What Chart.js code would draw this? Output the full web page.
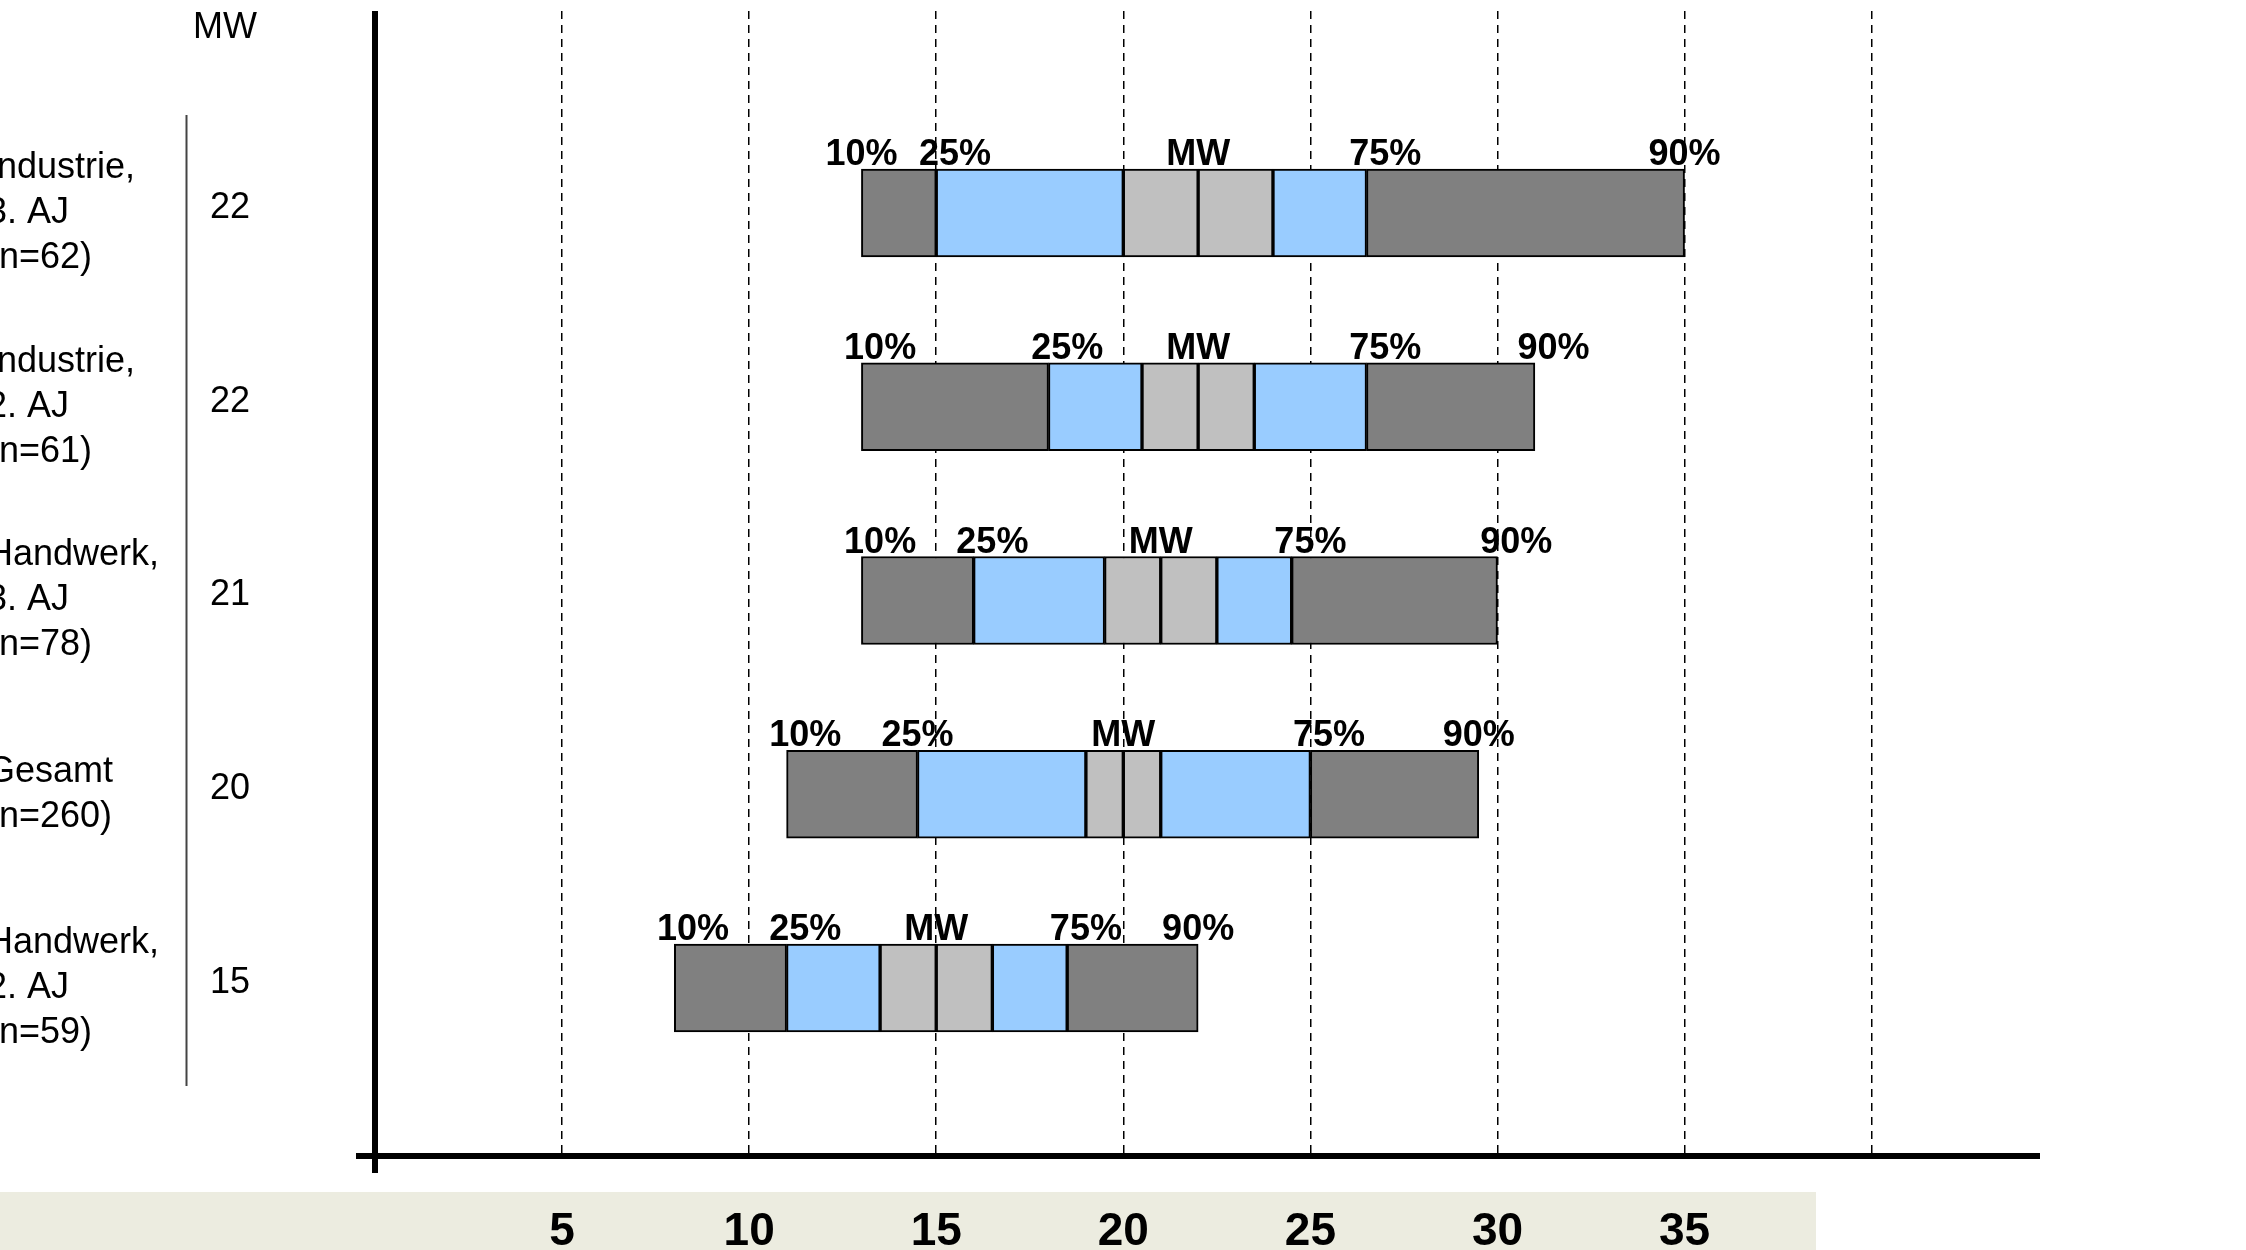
<!DOCTYPE html>
<html>
<head>
<meta charset="utf-8">
<script src="https://cdn.jsdelivr.net/npm/chart.js@4.4.1/dist/chart.umd.min.js"></script>
<style>
  html, body { margin: 0; padding: 0; background: #fff; overflow: hidden; }
</style>
</head>
<body>
<canvas id="chart" width="2246" height="1250"></canvas>
<script>
// groups, top to bottom
const groups = [
  ['Industrie,', '3. AJ', '(n=62)'],
  ['Industrie,', '2. AJ', '(n=61)'],
  ['Handwerk,', '3. AJ', '(n=78)'],
  ['Gesamt', '(n=260)'],
  ['Handwerk,', '2. AJ', '(n=59)']
];

// percentiles and mean (MW) with the grey band around it
const p10 = [13, 13, 13, 11, 8];
const p25 = [15, 18, 16, 14.5, 11];
const bandLo = [20, 20.5, 19.5, 19, 13.5];
const mw = [22, 22, 21, 20, 15];
const bandHi = [24, 23.5, 22.5, 21, 16.5];
const p75 = [26.5, 26.5, 24.5, 25, 18.5];
const p90 = [35, 31, 30, 29.5, 22];

// where the tags above each bar sit, in axis units
const tag10 = [13, 13.5, 13.5, 11.5, 8.5];
const tag25 = [15.5, 18.5, 16.5, 14.5, 11.5];
const tag75 = [27, 27, 25, 25.5, 19];
const tag90 = [35, 31.5, 30.5, 29.5, 22];

const xTicks = [5, 10, 15, 20, 25, 30, 35];

const DARK = '#808080';
const BLUE = '#99ccff';
const GREY = '#c0c0c0';

function segment(from, to, color) {
  return {
    data: groups.map((g, i) => ({ x: [from[i], to[i]], y: i })),
    backgroundColor: color,
    borderColor: '#000',
    borderWidth: 2,
    borderSkipped: false,
    barThickness: 88,
    grouped: false
  };
}

const overlay = {
  id: 'overlay',
  beforeDraw(chart) {
    const ctx = chart.ctx;
    ctx.save();
    ctx.fillStyle = '#fff';
    ctx.fillRect(0, 0, chart.width, chart.height);
    ctx.fillStyle = '#ecece0';
    ctx.fillRect(0, 1192, 1816, 58);
    ctx.restore();
  },
  afterDatasetsDraw(chart) {
    const ctx = chart.ctx;
    const xs = chart.scales.x;
    const ys = chart.scales.y;
    ctx.save();
    ctx.fillStyle = '#000';
    ctx.font = 'bold 36px "Liberation Sans", Arial, sans-serif';
    ctx.textAlign = 'center';
    ctx.textBaseline = 'alphabetic';
    groups.forEach((g, i) => {
      const y = ys.getPixelForValue(i) - 44 - 4;
      [[tag10, '10%'], [tag25, '25%'], [mw, 'MW'], [tag75, '75%'], [tag90, '90%']].forEach(([arr, txt]) => {
        ctx.fillText(txt, xs.getPixelForValue(arr[i]), y);
      });
    });
    ctx.restore();
  },
  afterDraw(chart) {
    const ctx = chart.ctx;
    const xs = chart.scales.x;
    const ys = chart.scales.y;
    const area = chart.chartArea;
    const x0 = xs.getPixelForValue(0);
    ctx.save();

    // axes
    ctx.strokeStyle = '#000';
    ctx.lineWidth = 6;
    ctx.beginPath();
    ctx.moveTo(356, area.bottom);
    ctx.lineTo(area.right, area.bottom);
    ctx.moveTo(x0, area.top);
    ctx.lineTo(x0, area.bottom + 17);
    ctx.stroke();

    // separator between names and MW column
    ctx.strokeStyle = '#444';
    ctx.lineWidth = 2;
    ctx.beginPath();
    ctx.moveTo(186.5, 115);
    ctx.lineTo(186.5, 1086);
    ctx.stroke();

    // group names and mean values
    ctx.fillStyle = '#000';
    ctx.font = '36px "Liberation Sans", Arial, sans-serif';
    ctx.textBaseline = 'middle';
    ctx.textAlign = 'left';
    ctx.fillText('MW', 193, 28);
    groups.forEach((lines, i) => {
      const cy = ys.getPixelForValue(i);
      const start = cy - (lines.length - 1) * 45 / 2;
      lines.forEach((t, k) => ctx.fillText(t, -13, start + k * 45));
      ctx.fillText(String(mw[i]), 210, cy - 5);
    });

    // tick labels in the band
    ctx.font = 'bold 46px "Liberation Sans", Arial, sans-serif';
    ctx.textAlign = 'center';
    ctx.textBaseline = 'alphabetic';
    xTicks.forEach(v => ctx.fillText(String(v), xs.getPixelForValue(v), 1245));
    ctx.restore();
  }
};

new Chart(document.getElementById('chart'), {
  type: 'bar',
  data: {
    datasets: [
      segment(p10, p25, DARK),
      segment(p25, bandLo, BLUE),
      segment(bandLo, mw, GREY),
      segment(mw, bandHi, GREY),
      segment(bandHi, p75, BLUE),
      segment(p75, p90, DARK)
    ]
  },
  options: {
    indexAxis: 'y',
    responsive: false,
    animation: false,
    events: [],
    layout: { padding: { left: 375, right: 206, top: 11, bottom: 94 } },
    plugins: { legend: { display: false }, tooltip: { enabled: false } },
    scales: {
      x: {
        type: 'linear',
        min: 0,
        max: 44.5,
        offset: false,
        ticks: { stepSize: 5, display: false, includeBounds: false },
        grid: { color: '#000', lineWidth: 1.5, drawTicks: false },
        border: { display: false, dash: [8, 6] }
      },
      y: {
        type: 'linear',
        reverse: true,
        offset: false,
        min: -1.0426,
        max: 4.867,
        display: false
      }
    }
  },
  plugins: [overlay]
});
</script>
</body>
</html>
